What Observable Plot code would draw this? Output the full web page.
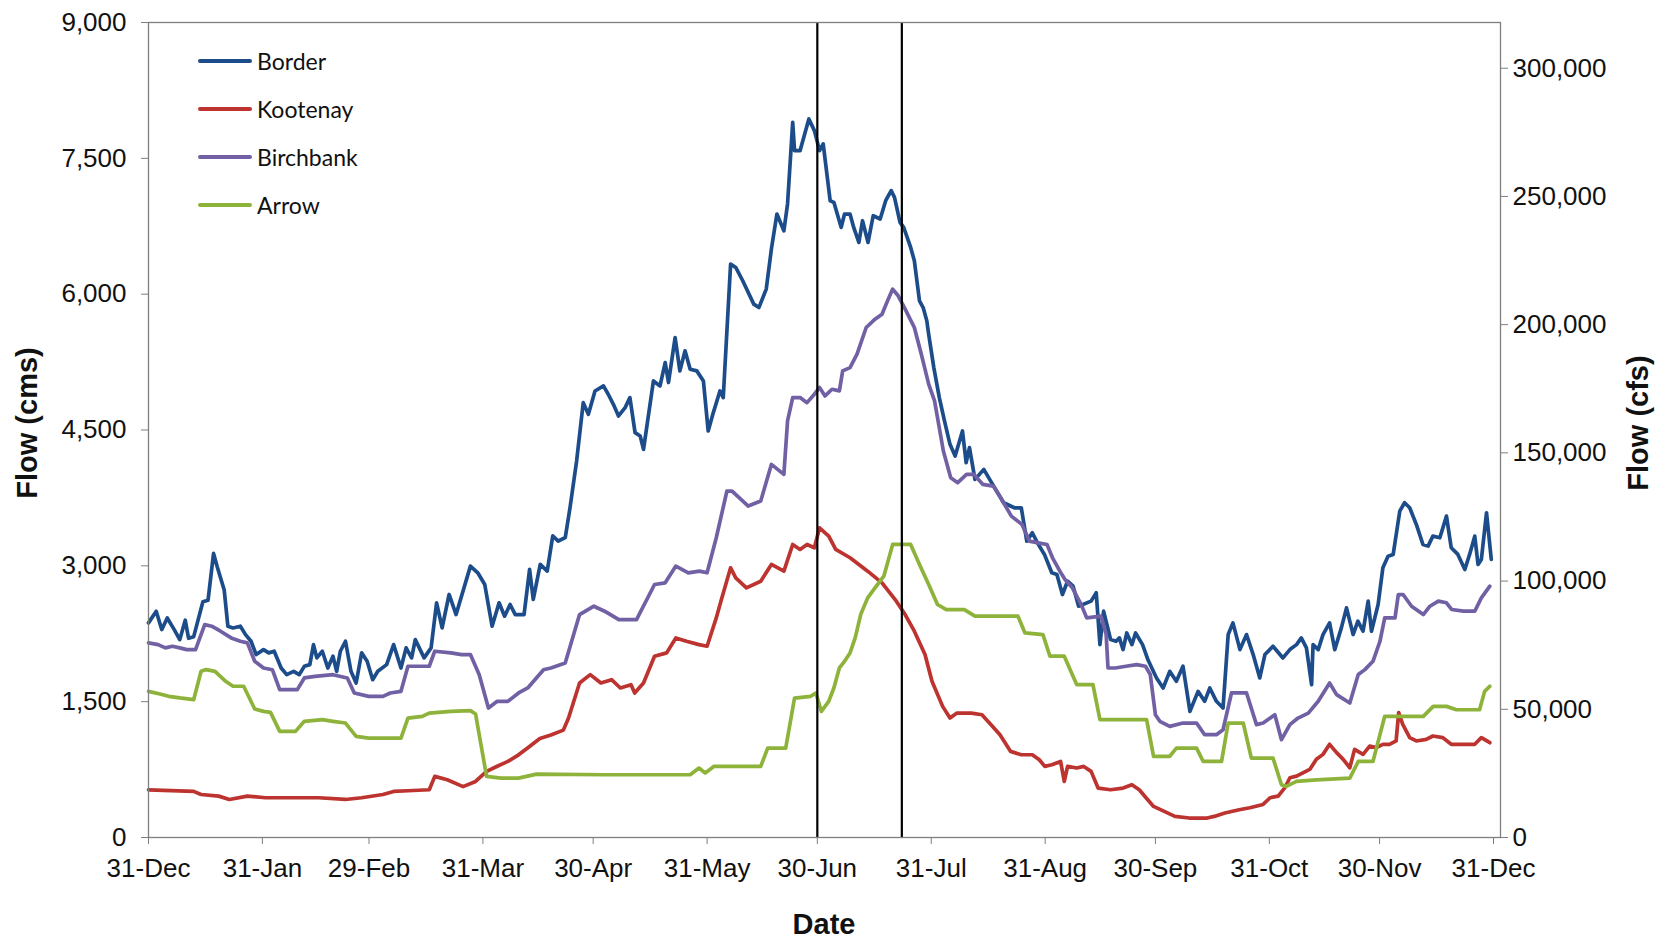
<!DOCTYPE html>
<html>
<head>
<meta charset="utf-8">
<script src="https://cdn.jsdelivr.net/npm/d3@7"></script>
<script src="https://cdn.jsdelivr.net/npm/@observablehq/plot@0.6"></script>
<style>
  html, body { margin: 0; padding: 0; background: #ffffff; }
  #wrap { position: relative; width: 1660px; height: 941px; overflow: hidden; }
  #chart svg text { font-family: "Liberation Sans", Arial, sans-serif; }
  .title { position: absolute; font-family: "Liberation Sans", Arial, sans-serif; font-weight: bold; font-size: 29px; color: #111; white-space: nowrap; transform: translate(-50%, -50%); }
  .rot { transform: translate(-50%, -50%) rotate(-90deg); }
  #legend { position: absolute; left: 198px; top: 0; font-family: Lato, "Open Sans", sans-serif; font-size: 23px; color: #111; }
  .item { position: absolute; left: 0; display: flex; align-items: center; white-space: nowrap; transform: translateY(-50%); }
  .swatch { width: 54px; height: 4px; margin-right: 5px; border-radius: 2px; }
</style>
</head>
<body>
<div id="wrap">
  <div id="chart"></div>
  <div id="legend"></div>
  <div class="title rot" style="left:27px; top:423px;">Flow (cms)</div>
  <div class="title rot" style="left:1638px; top:423px;">Flow (cfs)</div>
  <div class="title" style="left:824px; top:924px;">Date</div>
</div>
<script>
// ---------- data (day offsets from 31-Dec-2011, flow in cms) ----------
const seriesNames = ["Border", "Kootenay", "Birchbank", "Arrow"];
const seriesColors = ["#1c4c8a", "#bd332f", "#7160a4", "#8db33b"];

const borderDays = [0,2.1,3.6,5.1,7,8.5,10,10.9,12.3,14.8,16.2,17.7,18.7,20.6,21.6,23,25,26.4,27.9,29.3,31.3,32.7,34.2,36.1,37.6,39.5,41,42.4,43.9,44.9,45.8,47.3,48.8,50.2,51.2,52.2,53.6,55.1,56.5,58,59.5,61,62.4,64.8,66.7,68.7,70.1,71.6,72.6,75,76.9,78.4,79.9,81.8,83.7,87.6,89.6,91.5,93.5,95.4,96.9,98.4,99.8,102.2,103.7,104.7,106.6,108.5,110,111.5,113.4,114.7,116.5,118.3,119.7,121.5,123.8,125.1,126.5,127.9,129.7,131,132.4,133.8,134.7,137.4,139.2,140.6,141.5,143.3,144.6,146,147.4,149.2,151,152.3,153.7,155.5,156.4,158.4,159.8,161.7,164.7,166.1,168.1,169.5,171,172.9,173.9,175.3,175.8,177.3,179.7,181.2,182.6,183.6,185.5,186.5,188.5,189.4,190.9,191.9,193.3,194.3,195.8,197.2,199.1,200.6,202.1,203,204.5,205.5,207.4,208.4,209.8,210.8,211.8,212.3,213.7,215.2,216.6,218.1,219.5,221.5,222.5,223.4,224.9,227.3,229.7,232.7,235.6,237.5,239,240.5,241.9,243.8,245.8,247.2,248.7,250.1,251.6,253.1,256.5,257.9,258.9,259.9,261.8,263.3,264.2,265.2,266.2,267.6,268.6,270.5,272,274.3,276.1,277.9,279.7,281.5,283.4,285.6,287.4,288.8,290.6,292.4,293.8,295.1,297,298.8,300.6,302.4,303.8,306,308.7,310.6,312.4,313.7,315.1,316.5,316.9,318.3,319.6,321.4,322.8,324.6,326,327.8,329.1,330.5,331.9,332.8,334.6,335.9,337.3,338.7,340.5,341.8,343.2,345,346.8,348.2,349.5,351.4,353.2,354.5,356.3,358.2,359.5,360.9,361.8,362.7,364.1,365.4];
const borderCms = [2370,2499,2296,2424,2296,2185,2400,2200,2218,2603,2620,3137,2990,2733,2333,2314,2333,2240,2167,2020,2075,2039,2057,1872,1798,1835,1798,1890,1909,2130,1983,2057,1872,2002,1835,2057,2167,1835,1706,2039,1946,1743,1835,1909,2130,1872,2094,1983,2185,1983,2094,2592,2314,2684,2462,2997,2923,2794,2333,2592,2444,2573,2462,2462,2960,2629,3016,2942,3330,3274,3311,3641,4157,4802,4674,4931,4987,4895,4784,4655,4747,4858,4471,4434,4286,5042,4987,5245,5024,5521,5153,5374,5171,5153,5042,4489,4692,4931,4858,6332,6295,6148,5890,5852,6056,6498,6885,6700,6996,7898,7585,7585,7935,7806,7585,7659,7032,7014,6737,6885,6885,6737,6571,6811,6571,6866,6830,7032,7143,7069,6792,6737,6516,6369,5926,5852,5705,5558,5189,4858,4600,4342,4213,4489,4139,4305,3955,4065,3900,3697,3641,3641,3273,3365,3254,3126,2923,2904,2683,2830,2775,2554,2610,2702,2130,2499,2186,2167,2204,2075,2259,2130,2259,2130,1960,1762,1651,1835,1725,1891,1393,1614,1504,1651,1504,1430,2241,2370,2075,2241,2020,1762,2020,2112,1983,2075,2130,2204,2093,1688,2130,2075,2241,2370,2075,2315,2536,2241,2389,2278,2610,2278,2573,2978,3107,3126,3605,3697,3641,3457,3236,3218,3328,3310,3549,3199,3126,2960,3126,3328,3015,3071,3586,3071];

const kootenayDays = [0,12.3,14.3,19.1,22,26.9,31.8,46.3,53.6,58,63.8,66.7,70.6,76.4,77.9,81.3,85.6,89,92,94.9,97.8,100.7,103.6,106.5,109.5,112.9,114.3,117.3,120.2,123.1,126,128.4,131.3,132.3,134.7,137.7,141,143.5,146.4,149.8,152,154.5,155.9,158.4,159.8,162.7,166.6,169.5,172.9,175.3,177.3,179.2,181.2,182.6,185.1,187,190.9,195.7,199.6,203.5,205.9,208.4,211.3,213.2,216.1,218.1,220,223.9,226.8,229.7,231.7,234.6,237.5,240.5,242.4,243.9,245.8,248.2,249.2,250.1,252.6,254.5,256.5,258.4,261.8,265.2,267.6,269.6,271.5,273.5,276.4,279.3,283.2,288.1,290,292.9,296.8,299.7,303.3,305.2,307.4,309.2,310.6,312.4,316,317.8,319.6,321.4,323.3,325.1,326.9,328.2,330.5,332.3,334.1,335.9,337.7,339.5,340.2,341.3,343.2,345,347.7,349.5,352.2,354.5,357.7,360.9,362.7,365];
const kootenayCms = [527,509,475,457,420,457,439,439,420,439,475,509,516,527,675,637,562,619,730,787,840,913,1003,1094,1131,1186,1319,1706,1799,1706,1743,1651,1687,1596,1706,2001,2039,2204,2167,2130,2112,2425,2628,2978,2868,2757,2830,3015,2941,3236,3181,3236,3200,3420,3328,3181,3089,2941,2812,2610,2462,2278,2020,1725,1448,1319,1374,1374,1356,1227,1135,951,914,914,859,785,804,840,620,785,767,785,730,546,527,546,583,527,436,343,288,233,215,215,233,270,306,328,365,439,457,549,660,678,752,863,918,1029,937,863,770,973,918,1010,992,1029,1029,1066,1380,1250,1103,1066,1084,1121,1103,1029,1029,1029,1103,1047];

const birchbankDays = [0,2.6,4.6,6.5,8.5,10.4,12.8,15.3,17.2,19.6,22.5,25,26.9,28.9,31.3,33.7,35.7,40.5,42.4,45.3,50.2,54.1,56,59.9,63.8,65.8,68.7,70.6,74.5,76.4,77.9,82.3,85.2,87.6,90,92.5,94.9,97.8,100.7,103.2,107.5,109.5,113.4,117.3,121.2,124.1,128,132.8,137.7,140.6,143.5,146.9,149.9,152,154.5,157.4,158.8,163.2,166.6,169.5,172.9,173.9,175.3,177.3,179.2,181.2,182.6,184.1,186,188,188.9,190.9,192.8,195.3,197.7,199.6,201.1,202.5,204,205.9,208.4,210.3,212.3,213.9,216.3,218.3,220.2,222.6,224.6,227,229.9,231.9,234.8,237.7,239.7,242.1,244.5,246,248,249.4,251.4,253.8,255.3,259.2,260.6,261.1,263.1,266,268.9,271.3,272.6,274,275.2,277.9,281.5,285.2,287.4,290.6,292.4,294.7,298.8,301.5,303.3,306.5,308.3,310.6,312.8,315.6,318.3,321.4,323.3,326.9,329.2,331,333.2,335.1,336.4,339.2,340.1,341.4,343.7,346.9,348.7,351,353.2,354.6,357.8,360.9,362.7,365];
const birchbankCms = [2149,2130,2094,2112,2094,2075,2075,2351,2333,2278,2204,2167,2149,1946,1872,1853,1633,1633,1762,1780,1798,1762,1596,1559,1559,1596,1614,1891,1891,1891,2057,2039,2020,2020,1798,1430,1504,1504,1596,1651,1853,1872,1928,2462,2554,2499,2407,2407,2794,2812,2997,2923,2942,2923,3310,3826,3826,3660,3715,4120,4010,4600,4858,4858,4802,4895,4969,4876,4950,4932,5153,5189,5337,5632,5724,5779,5926,6056,5982,5835,5632,5337,5006,4821,4268,3973,3918,4010,4010,3900,3881,3752,3549,3457,3273,3254,3236,3089,2941,2849,2757,2573,2425,2444,2241,1872,1872,1891,1909,1891,1800,1356,1283,1227,1264,1264,1135,1135,1190,1596,1596,1246,1264,1356,1080,1246,1319,1374,1504,1706,1578,1485,1799,1854,1946,2167,2425,2425,2683,2683,2554,2462,2554,2610,2592,2518,2499,2499,2646,2775];

const arrowDays = [0,3.1,5.5,8.5,12.3,14.3,15.7,18.1,21,23,25.9,28.9,31.3,33.2,35.7,40,42.4,47.3,50.2,53.6,56.5,59.9,68.7,70.6,74.5,76.4,82.3,87.6,89,92,95.9,100.7,105.6,124.1,138.6,147.4,149.8,151.5,153.9,166.6,168.5,173.4,175.8,180.2,181.6,183.1,185.1,186.5,188,189.4,190.9,192.3,193.8,195.7,197.7,200.1,202.5,207.4,209.8,212.3,214.7,217.1,222,224.9,236.6,238.5,243.4,245.3,249.2,252.6,257,258.9,271.6,273.5,277.9,279.7,285.2,287,292,293.8,297.9,300.1,306,308.3,309.6,312.4,317.8,326.9,329.2,333.2,336.4,346.9,349.6,353.2,355.9,362.2,363.6,365];
const arrowCms = [1614,1585,1559,1541,1522,1835,1854,1835,1725,1670,1670,1419,1393,1382,1172,1172,1283,1301,1283,1264,1117,1098,1098,1319,1338,1374,1393,1401,1364,675,656,656,700,693,693,693,767,713,786,786,987,987,1540,1559,1596,1393,1504,1651,1872,1946,2038,2204,2462,2646,2757,2886,3236,3236,3015,2794,2573,2517,2517,2444,2444,2259,2241,2002,2002,1688,1688,1301,1301,895,895,987,987,840,840,1264,1264,877,877,582,564,619,637,656,840,840,1338,1338,1448,1448,1411,1411,1614,1670];

const xTickDates = ["2011-12-31","2012-01-31","2012-02-29","2012-03-31","2012-04-30","2012-05-31","2012-06-30","2012-07-31","2012-08-31","2012-09-30","2012-10-31","2012-11-30","2012-12-31"];
const leftTicks = [0, 1500, 3000, 4500, 6000, 7500, 9000];
const rightTicksCfs = [0, 50000, 100000, 150000, 200000, 250000, 300000];
const markerDates = ["2012-06-30", "2012-07-23"];
const CFS_PER_CMS = 35.3147;

// ---------- build ----------
const t0 = Date.UTC(2011, 11, 31);
const toDate = d => new Date(t0 + d * 864e5);
const parse = s => new Date(s + "T00:00:00Z");

const seriesData = [
  [borderDays, borderCms],
  [kootenayDays, kootenayCms],
  [birchbankDays, birchbankCms],
  [arrowDays, arrowCms]
];

const rows = [];
seriesData.forEach(([days, vals], i) => {
  days.forEach((d, j) => rows.push({series: seriesNames[i], date: toDate(d), flow: vals[j]}));
});

const fmt = d3.format(",");
const axisColor = "#7f7f7f";
const tickFont = "'Liberation Sans', Arial, sans-serif";

const chart = Plot.plot({
  width: 1660,
  height: 941,
  marginLeft: 148,
  marginRight: 160,
  marginTop: 22,
  marginBottom: 104,
  style: {fontFamily: tickFont, fontSize: "26px", color: "#111", background: "transparent"},
  x: {type: "utc", domain: [parse(xTickDates[0]), parse(xTickDates[xTickDates.length - 1])], insetRight: 7},
  y: {domain: [0, 9000]},
  color: {domain: seriesNames, range: seriesColors},
  marks: [
    Plot.axisX(xTickDates.map(parse), {tickFormat: d3.utcFormat("%-d-%b"), tickSize: 7, tickPadding: 14, stroke: axisColor, fill: "#111", label: null, fontSize: 26, fontFamily: tickFont}),
    Plot.axisY(leftTicks, {anchor: "left", tickFormat: fmt, tickSize: 7, tickPadding: 15, stroke: axisColor, fill: "#111", label: null, fontSize: 26, fontFamily: tickFont}),
    Plot.axisY(rightTicksCfs.map(v => v / CFS_PER_CMS), {anchor: "right", tickFormat: d => fmt(Math.round(d * CFS_PER_CMS)), tickSize: 7, tickPadding: 5, stroke: axisColor, fill: "#111", label: null, fontSize: 26, fontFamily: tickFont}),
    Plot.line(rows, {x: "date", y: "flow", z: "series", stroke: "series", strokeWidth: 3.7, strokeLinejoin: "round", curve: "linear"}),
    Plot.ruleX(markerDates.map(parse), {stroke: "#000", strokeWidth: 2.2}),
    Plot.frame({stroke: axisColor, strokeWidth: 1.3})
  ]
});
document.getElementById("chart").appendChild(chart);

// legend
const legendY = [60.5, 108.5, 157, 205];
const legend = document.getElementById("legend");
seriesNames.forEach((name, i) => {
  const item = document.createElement("div");
  item.className = "item";
  item.style.top = legendY[i] + "px";
  const sw = document.createElement("span");
  sw.className = "swatch";
  sw.style.background = seriesColors[i];
  const label = document.createElement("span");
  label.textContent = name;
  item.appendChild(sw);
  item.appendChild(label);
  legend.appendChild(item);
});
</script>
</body>
</html>
